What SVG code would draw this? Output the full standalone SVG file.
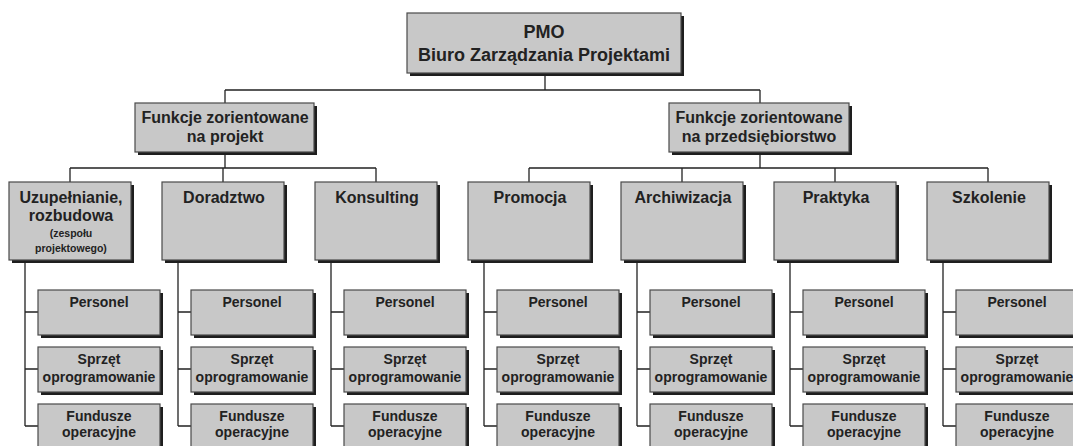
<svg xmlns="http://www.w3.org/2000/svg" width="1073" height="446" viewBox="0 0 1073 446">
<defs>
<style>
.sh{fill:#1e1e1e}
.bx{fill:#c8c8c8;stroke:#4a4a4a;stroke-width:1.2}
.ln{stroke:#222;stroke-width:1.3;fill:none}
text{font-family:"Liberation Sans",Arial,sans-serif;font-weight:bold;fill:#222;text-anchor:middle}
.t1{font-size:18px}
.t2{font-size:16px}
.t3{font-size:16px}
.t4{font-size:10.5px}
.t5{font-size:14px}
</style>
</defs>
<rect width="1073" height="446" fill="#fff"/>
<g id="connectors">
<path class="ln" d="M545 76V90M225 90H760M225 90V103M760 90V103"/>
<path class="ln" d="M225 155V168M70 168H376M70 168V182M223 168V182M376 168V182"/>
<path class="ln" d="M760 155V168M529 168H988M529 168V182M682 168V182M835 168V182M988 168V182"/>
<path class="ln" d="M25 263V426M25 312H38M25 369H38M25 426H38"/>
<path class="ln" d="M178 263V426M178 312H191M178 369H191M178 426H191"/>
<path class="ln" d="M331 263V426M331 312H344M331 369H344M331 426H344"/>
<path class="ln" d="M484 263V426M484 312H497M484 369H497M484 426H497"/>
<path class="ln" d="M637 263V426M637 312H650M637 369H650M637 426H650"/>
<path class="ln" d="M790 263V426M790 312H803M790 369H803M790 426H803"/>
<path class="ln" d="M943 263V426M943 312H956M943 369H956M943 426H956"/>
</g>
<g id="pmo"><rect class="sh" x="410" y="16" width="274" height="60"/><rect class="bx" x="407" y="13" width="274" height="60"/><text class="t1" x="544" y="38">PMO</text><text class="t1" x="544" y="61">Biuro Zarządzania Projektami</text></g>
<g id="f-projekt"><rect class="sh" x="138" y="106" width="179" height="49"/><rect class="bx" x="135" y="103" width="179" height="49"/><text class="t2" x="225" y="123">Funkcje zorientowane</text><text class="t2" x="225" y="142">na projekt</text></g>
<g id="f-przeds"><rect class="sh" x="672" y="106" width="180" height="49"/><rect class="bx" x="669" y="103" width="180" height="49"/><text class="t2" x="759" y="123">Funkcje zorientowane</text><text class="t2" x="759" y="142">na przedsiębiorstwo</text></g>
<g id="c1"><rect class="sh" x="12" y="185" width="122" height="78"/><rect class="bx" x="9" y="182" width="122" height="78"/><text class="t3" x="71" y="203">Uzupełnianie,</text><text class="t3" x="71" y="221">rozbudowa</text><text class="t4" x="71" y="237">(zespołu</text><text class="t4" x="71" y="252">projektowego)</text></g>
<g id="c2"><rect class="sh" x="165" y="185" width="122" height="78"/><rect class="bx" x="162" y="182" width="122" height="78"/><text class="t3" x="224" y="203">Doradztwo</text></g>
<g id="c3"><rect class="sh" x="318" y="185" width="122" height="78"/><rect class="bx" x="315" y="182" width="122" height="78"/><text class="t3" x="377" y="203">Konsulting</text></g>
<g id="c4"><rect class="sh" x="471" y="185" width="122" height="78"/><rect class="bx" x="468" y="182" width="122" height="78"/><text class="t3" x="530" y="203">Promocja</text></g>
<g id="c5"><rect class="sh" x="624" y="185" width="122" height="78"/><rect class="bx" x="621" y="182" width="122" height="78"/><text class="t3" x="683" y="203">Archiwizacja</text></g>
<g id="c6"><rect class="sh" x="777" y="185" width="122" height="78"/><rect class="bx" x="774" y="182" width="122" height="78"/><text class="t3" x="836" y="203">Praktyka</text></g>
<g id="c7"><rect class="sh" x="930" y="185" width="122" height="78"/><rect class="bx" x="927" y="182" width="122" height="78"/><text class="t3" x="989" y="203">Szkolenie</text></g>
<g id="c1-p"><rect class="sh" x="41" y="293" width="122" height="45"/><rect class="bx" x="38" y="290" width="122" height="45"/><text class="t5" x="99" y="307">Personel</text></g>
<g id="c1-s"><rect class="sh" x="41" y="350" width="122" height="45"/><rect class="bx" x="38" y="347" width="122" height="45"/><text class="t5" x="99" y="364">Sprzęt</text><text class="t5" x="99" y="382">oprogramowanie</text></g>
<g id="c1-f"><rect class="sh" x="41" y="407" width="122" height="45"/><rect class="bx" x="38" y="404" width="122" height="45"/><text class="t5" x="99" y="421">Fundusze</text><text class="t5" x="99" y="437">operacyjne</text></g>
<g id="c2-p"><rect class="sh" x="194" y="293" width="122" height="45"/><rect class="bx" x="191" y="290" width="122" height="45"/><text class="t5" x="252" y="307">Personel</text></g>
<g id="c2-s"><rect class="sh" x="194" y="350" width="122" height="45"/><rect class="bx" x="191" y="347" width="122" height="45"/><text class="t5" x="252" y="364">Sprzęt</text><text class="t5" x="252" y="382">oprogramowanie</text></g>
<g id="c2-f"><rect class="sh" x="194" y="407" width="122" height="45"/><rect class="bx" x="191" y="404" width="122" height="45"/><text class="t5" x="252" y="421">Fundusze</text><text class="t5" x="252" y="437">operacyjne</text></g>
<g id="c3-p"><rect class="sh" x="347" y="293" width="122" height="45"/><rect class="bx" x="344" y="290" width="122" height="45"/><text class="t5" x="405" y="307">Personel</text></g>
<g id="c3-s"><rect class="sh" x="347" y="350" width="122" height="45"/><rect class="bx" x="344" y="347" width="122" height="45"/><text class="t5" x="405" y="364">Sprzęt</text><text class="t5" x="405" y="382">oprogramowanie</text></g>
<g id="c3-f"><rect class="sh" x="347" y="407" width="122" height="45"/><rect class="bx" x="344" y="404" width="122" height="45"/><text class="t5" x="405" y="421">Fundusze</text><text class="t5" x="405" y="437">operacyjne</text></g>
<g id="c4-p"><rect class="sh" x="500" y="293" width="122" height="45"/><rect class="bx" x="497" y="290" width="122" height="45"/><text class="t5" x="558" y="307">Personel</text></g>
<g id="c4-s"><rect class="sh" x="500" y="350" width="122" height="45"/><rect class="bx" x="497" y="347" width="122" height="45"/><text class="t5" x="558" y="364">Sprzęt</text><text class="t5" x="558" y="382">oprogramowanie</text></g>
<g id="c4-f"><rect class="sh" x="500" y="407" width="122" height="45"/><rect class="bx" x="497" y="404" width="122" height="45"/><text class="t5" x="558" y="421">Fundusze</text><text class="t5" x="558" y="437">operacyjne</text></g>
<g id="c5-p"><rect class="sh" x="653" y="293" width="122" height="45"/><rect class="bx" x="650" y="290" width="122" height="45"/><text class="t5" x="711" y="307">Personel</text></g>
<g id="c5-s"><rect class="sh" x="653" y="350" width="122" height="45"/><rect class="bx" x="650" y="347" width="122" height="45"/><text class="t5" x="711" y="364">Sprzęt</text><text class="t5" x="711" y="382">oprogramowanie</text></g>
<g id="c5-f"><rect class="sh" x="653" y="407" width="122" height="45"/><rect class="bx" x="650" y="404" width="122" height="45"/><text class="t5" x="711" y="421">Fundusze</text><text class="t5" x="711" y="437">operacyjne</text></g>
<g id="c6-p"><rect class="sh" x="806" y="293" width="122" height="45"/><rect class="bx" x="803" y="290" width="122" height="45"/><text class="t5" x="864" y="307">Personel</text></g>
<g id="c6-s"><rect class="sh" x="806" y="350" width="122" height="45"/><rect class="bx" x="803" y="347" width="122" height="45"/><text class="t5" x="864" y="364">Sprzęt</text><text class="t5" x="864" y="382">oprogramowanie</text></g>
<g id="c6-f"><rect class="sh" x="806" y="407" width="122" height="45"/><rect class="bx" x="803" y="404" width="122" height="45"/><text class="t5" x="864" y="421">Fundusze</text><text class="t5" x="864" y="437">operacyjne</text></g>
<g id="c7-p"><rect class="sh" x="959" y="293" width="122" height="45"/><rect class="bx" x="956" y="290" width="122" height="45"/><text class="t5" x="1017" y="307">Personel</text></g>
<g id="c7-s"><rect class="sh" x="959" y="350" width="122" height="45"/><rect class="bx" x="956" y="347" width="122" height="45"/><text class="t5" x="1017" y="364">Sprzęt</text><text class="t5" x="1017" y="382">oprogramowanie</text></g>
<g id="c7-f"><rect class="sh" x="959" y="407" width="122" height="45"/><rect class="bx" x="956" y="404" width="122" height="45"/><text class="t5" x="1017" y="421">Fundusze</text><text class="t5" x="1017" y="437">operacyjne</text></g>
</svg>
